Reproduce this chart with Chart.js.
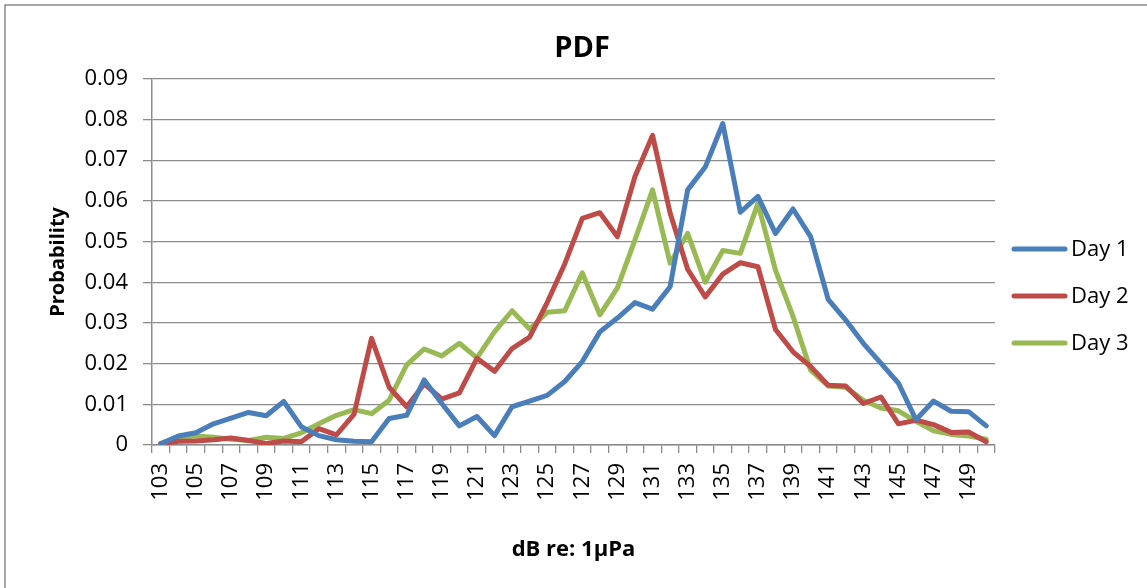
<!DOCTYPE html>
<html>
<head>
<meta charset="utf-8">
<script src="https://cdn.jsdelivr.net/npm/chart.js@4.4.1/dist/chart.umd.min.js"></script>
<style>
  html, body { margin: 0; padding: 0; background: #fff; }
  #wrap { width: 1147px; height: 588px; position: relative; }
</style>
</head>
<body>
<div id="wrap"><canvas id="pdfChart"></canvas></div>
<script>
// dB levels 103..150
var levels = [103, 104, 105, 106, 107, 108, 109, 110, 111, 112, 113, 114, 115, 116, 117, 118,
  119, 120, 121, 122, 123, 124, 125, 126, 127, 128, 129, 130, 131, 132, 133, 134,
  135, 136, 137, 138, 139, 140, 141, 142, 143, 144, 145, 146, 147, 148, 149, 150];

var day1 = [0.0003, 0.0022, 0.0030, 0.0052, 0.0066, 0.0080, 0.0072, 0.0107, 0.0045, 0.0023, 0.0013, 0.0009, 0.0008, 0.0065, 0.0073, 0.0160,
  0.0102, 0.0047, 0.0070, 0.0023, 0.0094, 0.0108, 0.0122, 0.0156, 0.0205, 0.0278, 0.0312, 0.0350, 0.0334, 0.0389, 0.0627, 0.0683,
  0.0790, 0.0572, 0.0611, 0.0520, 0.0580, 0.0512, 0.0358, 0.0307, 0.0250, 0.0201, 0.0152, 0.0062, 0.0108, 0.0083, 0.0082, 0.0047];

var day2 = [0.0003, 0.0009, 0.0010, 0.0013, 0.0017, 0.0011, 0.0004, 0.0010, 0.0008, 0.0040, 0.0025, 0.0075, 0.0262, 0.0142, 0.0094, 0.0150,
  0.0113, 0.0128, 0.0213, 0.0181, 0.0237, 0.0265, 0.0350, 0.0445, 0.0557, 0.0571, 0.0512, 0.0660, 0.0761, 0.0570, 0.0432, 0.0364,
  0.0420, 0.0448, 0.0438, 0.0284, 0.0229, 0.0193, 0.0147, 0.0145, 0.0102, 0.0118, 0.0052, 0.0061, 0.0050, 0.0031, 0.0032, 0.0008];

var day3 = [0.0004, 0.0019, 0.0022, 0.0019, 0.0014, 0.0011, 0.0019, 0.0016, 0.0030, 0.0052, 0.0073, 0.0087, 0.0077, 0.0110, 0.0197, 0.0236,
  0.0219, 0.0250, 0.0214, 0.0278, 0.0330, 0.0285, 0.0326, 0.0330, 0.0423, 0.0320, 0.0386, 0.0504, 0.0627, 0.0447, 0.0520, 0.0400,
  0.0478, 0.0471, 0.0594, 0.0430, 0.0316, 0.0184, 0.0145, 0.0142, 0.0110, 0.0091, 0.0084, 0.0058, 0.0035, 0.0026, 0.0022, 0.0014];

var seriesNames = ['Day 1', 'Day 2', 'Day 3'];
var seriesColors = ['#4A7EBB', '#BE4B48', '#98B954'];

var fontFam = "'Open Sans', 'Liberation Sans', sans-serif";
var gridColor = '#8c8c8c';

function makeSet(i, values) {
  return {
    label: seriesNames[i],
    data: values,
    borderColor: seriesColors[i],
    backgroundColor: seriesColors[i],
    borderWidth: 5,
    pointRadius: 0,
    tension: 0,
    borderJoinStyle: 'round',
    borderCapStyle: 'round',
    fill: false
  };
}

// white background, outer frame and the right hand legend
var framePlugin = {
  id: 'frame',
  beforeDraw: function (chart) {
    var c = chart.ctx;
    c.save();
    c.fillStyle = '#fff';
    c.fillRect(0, 0, chart.width, chart.height);
    c.strokeStyle = '#8a8a8a';
    c.lineWidth = 1.5;
    c.beginPath();
    c.moveTo(5, chart.height);
    c.lineTo(5, 5);
    c.lineTo(chart.width, 5);
    c.stroke();
    c.restore();
  },
  afterDraw: function (chart) {
    var c = chart.ctx;
    c.save();
    c.font = '22px ' + fontFam;
    c.textBaseline = 'middle';
    c.lineCap = 'round';
    chart.data.datasets.forEach(function (ds, i) {
      var y = 249 + i * 47;
      c.strokeStyle = ds.borderColor;
      c.lineWidth = 5;
      c.beginPath();
      c.moveTo(1014, y);
      c.lineTo(1065, y);
      c.stroke();
      c.fillStyle = '#000';
      c.fillText(ds.label, 1071, y + 1);
    });
    c.restore();
  }
};

new Chart(document.getElementById('pdfChart'), {
  type: 'line',
  data: {
    labels: levels,
    datasets: [makeSet(0, day1), makeSet(1, day2), makeSet(2, day3)]
  },
  plugins: [framePlugin],
  options: {
    responsive: true,
    maintainAspectRatio: false,
    animation: false,
    layout: { padding: { left: 17, right: 0, top: 0, bottom: 0 } },
    plugins: {
      legend: { display: false },
      tooltip: { enabled: false },
      title: {
        display: true,
        text: 'PDF',
        color: '#000',
        font: { family: fontFam, size: 29, weight: 'bold' },
        padding: { top: 31, bottom: 13 }
      }
    },
    scales: {
      x: {
        type: 'category',
        offset: true,
        afterFit: function (s) { s.height = 143; },
        grid: {
          display: true,
          drawOnChartArea: false,
          drawTicks: true,
          tickLength: 8,
          color: gridColor,
          lineWidth: 1.3,
          offset: true
        },
        border: { display: true, color: gridColor, width: 1.5 },
        ticks: {
          autoSkip: false,
          minRotation: 90,
          maxRotation: 90,
          padding: 10,
          color: '#000',
          font: { family: fontFam, size: 22 },
          callback: function (v, i) { return i % 2 === 0 ? levels[i] : ''; }
        },
        title: {
          display: true,
          text: 'dB re: 1µPa',
          color: '#000',
          font: { family: fontFam, size: 22, weight: 'bold' },
          padding: { top: 0, bottom: 25 }
        }
      },
      y: {
        min: 0,
        max: 0.09,
        afterFit: function (s) { s.width = 135; },
        ticks: {
          stepSize: 0.01,
          padding: 15,
          color: '#000',
          font: { family: fontFam, size: 22 },
          callback: function (v) { return v === 0 ? '0' : v.toFixed(2); }
        },
        grid: { color: gridColor, lineWidth: 1.3, tickLength: 9 },
        border: { display: true, color: gridColor, width: 1.5 },
        title: {
          display: true,
          text: 'Probability',
          color: '#000',
          font: { family: fontFam, size: 20, weight: 'bold' },
          padding: { top: 29, bottom: 0 }
        }
      },
      yRight: {
        type: 'linear',
        position: 'right',
        display: true,
        afterFit: function (s) { s.width = 152; },
        grid: { display: false, drawTicks: false },
        border: { display: false },
        ticks: { display: false }
      }
    }
  }
});
</script>
</body>
</html>
